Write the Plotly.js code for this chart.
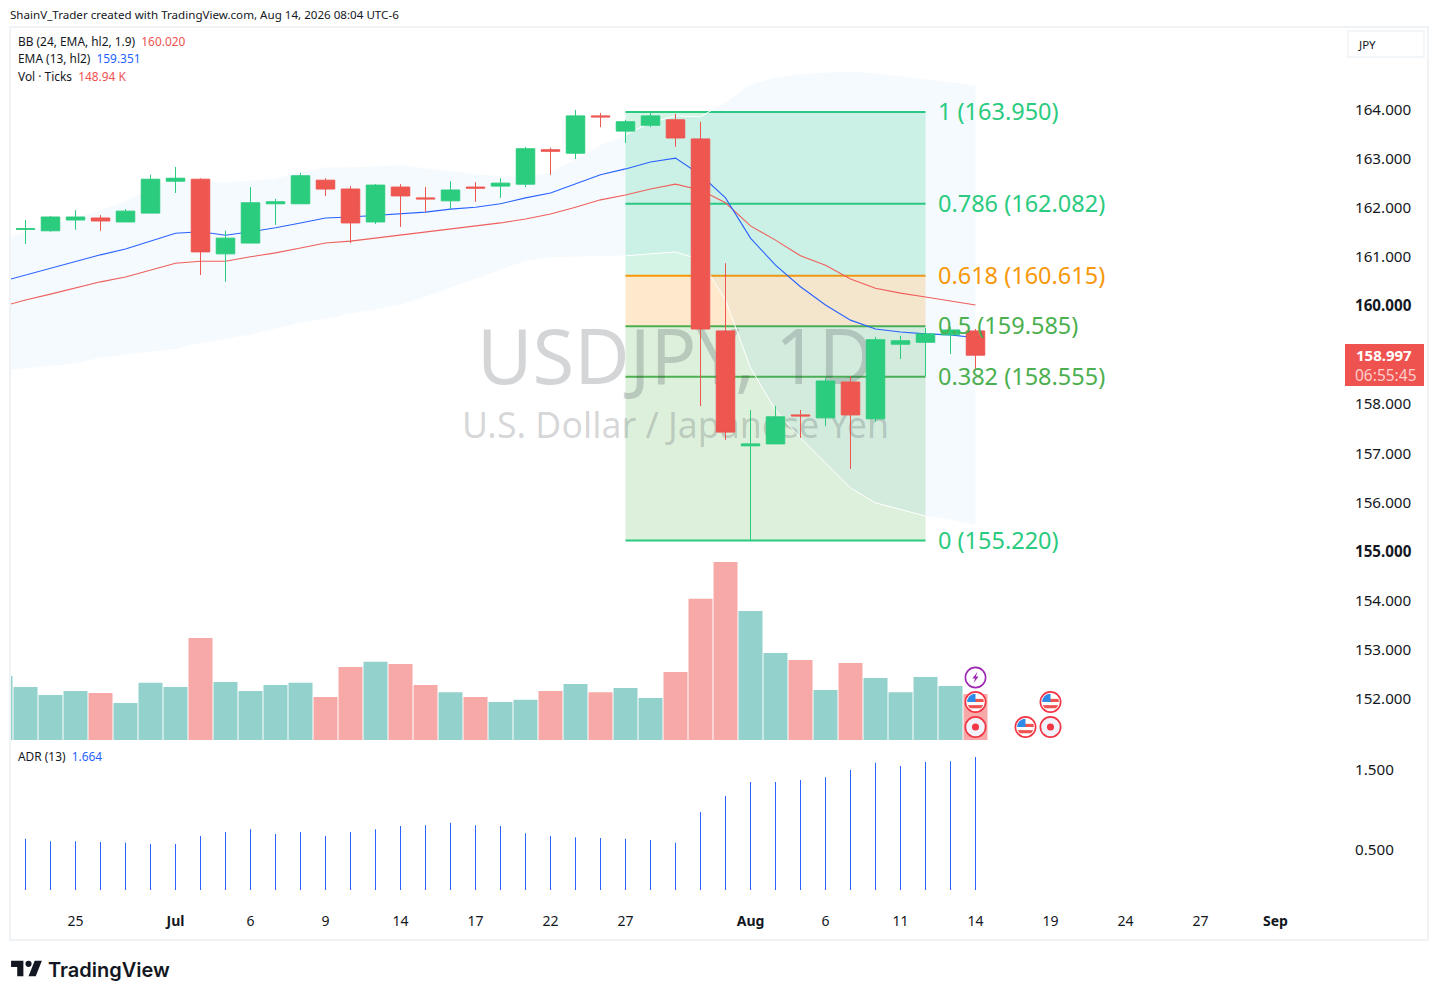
<!DOCTYPE html>
<html>
<head>
<meta charset="utf-8">
<script src="https://cdn.plot.ly/plotly-3.0.1.min.js"></script>
<style>html,body{margin:0;padding:0;background:#fff}#chart{width:1438px;height:1000px}</style>
</head>
<body>
<div id="chart"></div>
<script>
// ---------- data ----------
const candleIndex = [0,1,2,3,4,5,6,7,8,9,10,11,12,13,14,15,16,17,18,19,20,21,22,23,24,25,26,27,28,29,30,31,32,33,34,35,36,37,38];
const opens  = [161.56,161.53,161.75,161.79,161.71,161.89,162.54,162.58,161.06,161.28,162.08,162.08,162.56,162.38,161.71,162.42,162.20,162.14,162.42,162.44,162.48,163.18,163.11,163.87,163.56,163.68,163.79,163.40,159.49,157.15,157.19,157.78,157.72,158.45,157.70,159.22,159.26,159.41,159.49];
const highs  = [161.75,161.83,161.95,161.85,161.97,162.67,162.83,162.60,161.53,162.42,162.18,162.71,162.60,162.44,162.48,162.48,162.42,162.54,162.52,162.60,163.24,163.22,163.99,163.93,163.79,163.95,163.91,163.75,160.87,157.88,157.96,157.88,158.53,158.57,159.37,159.39,159.55,159.57,159.53];
const lows   = [161.26,161.51,161.55,161.53,161.71,161.89,162.30,160.63,160.49,161.28,161.65,162.08,162.24,161.28,161.67,161.61,161.91,161.97,162.12,162.20,162.42,162.67,162.99,163.64,163.32,163.64,163.24,157.96,157.27,155.22,157.19,157.31,157.55,156.68,157.64,158.92,158.57,159.02,158.69];
const closes = [161.57,161.81,161.81,161.73,161.93,162.58,162.60,161.10,161.38,162.10,162.12,162.65,162.38,161.69,162.46,162.24,162.18,162.36,162.40,162.50,163.20,163.15,163.87,163.85,163.75,163.87,163.42,159.53,157.43,157.19,157.74,157.76,158.47,157.78,159.31,159.29,159.43,159.51,158.997];

const lineIndex = [-1,0,1,2,3,4,5,6,7,8,9,10,11,12,13,14,15,16,17,18,19,20,21,22,23,24,25,26,27,28,29,30,31,32,33,34,35,36,37,38];
const emaLine = [160.49,160.63,160.77,160.91,161.04,161.16,161.32,161.48,161.51,161.44,161.51,161.59,161.69,161.79,161.81,161.84,161.87,161.91,161.97,162.01,162.08,162.20,162.30,162.48,162.67,162.79,162.93,163.01,162.67,162.20,161.38,160.83,160.39,160.02,159.71,159.53,159.47,159.43,159.41,159.351];
const bbBasis = [159.98,160.12,160.24,160.36,160.49,160.59,160.73,160.87,160.91,160.91,161.00,161.08,161.18,161.28,161.32,161.38,161.44,161.51,161.57,161.63,161.69,161.77,161.87,162.01,162.16,162.26,162.38,162.48,162.36,162.10,161.63,161.34,161.02,160.83,160.55,160.36,160.26,160.18,160.10,160.02];
const bbUpper = [161.34,161.51,161.65,161.81,161.95,162.14,162.40,162.60,162.56,162.52,162.56,162.60,162.73,162.83,162.83,162.85,162.87,162.81,162.75,162.69,162.65,162.63,162.73,162.99,163.28,163.48,163.73,163.87,163.85,164.15,164.52,164.66,164.72,164.76,164.78,164.74,164.68,164.62,164.56,164.50];
const bbLower = [158.67,158.72,158.77,158.82,158.94,159.00,159.06,159.12,159.24,159.33,159.41,159.53,159.65,159.73,159.84,159.92,160.02,160.18,160.36,160.55,160.73,160.91,160.98,160.99,161.00,161.02,161.06,161.10,160.94,160.12,158.74,157.88,157.31,156.80,156.29,155.99,155.86,155.72,155.64,155.54];
const volumeK = [207,172,146,159,152,120,185,172,330,188,159,178,185,139,236,253,246,178,155,139,123,130,159,181,155,168,136,220,457,576,418,282,259,162,249,201,155,204,175,148.94];
const adrValues = [0.64,0.61,0.61,0.60,0.59,0.575,0.575,0.675,0.725,0.76,0.70,0.725,0.675,0.725,0.76,0.80,0.81,0.84,0.81,0.80,0.71,0.675,0.66,0.65,0.64,0.625,0.59,0.975,1.175,1.35,1.35,1.375,1.41,1.50,1.59,1.55,1.60,1.61,1.664];

const fibRatios = ['1','0.786','0.618','0.5','0.382','0'];
const fibPrices = [163.950,162.082,160.615,159.585,158.555,155.220];
const fibLineColors = ['#2bcb7f','#2bcb7f','#f7980a','#4caf50','#4caf50','#2bcb7f'];
const fibZoneColors = ['#d4f5e5','#d4f5e5','#ffe9cc','#dcf0dc','#ddf0dc'];
const fibStart = 24, fibEnd = 36;

const xTickVals = [2,6,9,12,15,18,21,24,29,32,35,38,41,44,47,50];
const xTickText = ['25','<b>Jul</b>','6','9','14','17','22','27','<b>Aug</b>','6','11','14','19','24','27','<b>Sep</b>'];
const priceTicks = [164,163,162,161,160,159,158,157,156,155,154,153,152];
const priceTickText = ['164.000','163.000','162.000','161.000','<b>160.000</b>','','158.000','157.000','156.000','<b>155.000</b>','154.000','153.000','152.000'];
const adrTicks = [1.5,0.5];
const adrTickText = ['1.500','0.500'];

// ---------- styles ----------
const UP='#2bcc7e', DOWN='#ee5650', VUP='#93d2cc', VDOWN='#f7a9a7', BLUE='#2962ff', BASIS='#ef5f5b', INK='#131722';
const FONT='"Noto Sans", sans-serif';
const PL=10, PR=1347, PT=27, PB=905, PW=PR-PL, PH=PB-PT;
const fx = p => (p-PL)/PW, fy = p => (PB-p)/PH;

const volIsDown = lineIndex.map((d,k)=> k===0 ? false : closes[k-1] < opens[k-1]);

const traces = [
  {type:'scatter',mode:'text',x:[26],y:[158.79],text:['USDJPY, 1D'],textposition:'middle center',
   textfont:{size:76,family:FONT,color:'rgba(42,46,57,0.2)'},hoverinfo:'skip',showlegend:false},
  {type:'scatter',mode:'text',x:[26],y:[157.49],text:['U.S. Dollar / Japanese Yen'],textposition:'middle center',
   textfont:{size:35.7,family:FONT,color:'rgba(42,46,57,0.2)'},hoverinfo:'skip',showlegend:false},
  {type:'scatter',mode:'lines',x:lineIndex,y:bbUpper,line:{color:'#ffffff',width:1},hoverinfo:'skip',showlegend:false},
  {type:'scatter',mode:'lines',x:lineIndex,y:bbLower,line:{color:'#ffffff',width:1},fill:'tonexty',fillcolor:'rgba(33,150,243,0.05)',hoverinfo:'skip',showlegend:false},
  {type:'scatter',mode:'lines',x:lineIndex,y:bbBasis,line:{color:BASIS,width:1.1},hoverinfo:'skip',showlegend:false},
  {type:'scatter',mode:'lines',x:lineIndex,y:emaLine,line:{color:BLUE,width:1.1},hoverinfo:'skip',showlegend:false},
  {type:'bar',x:lineIndex,y:volumeK,yaxis:'y3',width:0.96,marker:{color:volIsDown.map(d=>d?VDOWN:VUP),line:{width:0}},hoverinfo:'skip',showlegend:false},
  {type:'candlestick',x:candleIndex,open:opens,high:highs,low:lows,close:closes,yaxis:'y4',
   increasing:{line:{color:UP,width:1},fillcolor:UP},decreasing:{line:{color:DOWN,width:1},fillcolor:DOWN},hoverinfo:'skip',showlegend:false},
  {type:'bar',x:candleIndex,y:adrValues,yaxis:'y2',width:0.04,marker:{color:BLUE,line:{width:0}},hoverinfo:'skip',showlegend:false}
];

// fib zones & lines
const shapes = [];
fibZoneColors.forEach((c,k)=>shapes.push({type:'rect',layer:'below',xref:'x',yref:'y',x0:fibStart,x1:fibEnd,y0:fibPrices[k],y1:fibPrices[k+1],fillcolor:c,line:{width:0}}));
fibPrices.forEach((p,k)=>shapes.push({type:'line',layer:'below',xref:'x',yref:'y',x0:fibStart,x1:fibEnd,y0:p,y1:p,line:{color:fibLineColors[k],width:2}}));
// frame, currency box, last price tag
shapes.push({type:'rect',xref:'paper',yref:'paper',x0:fx(10),x1:fx(1428),y0:fy(940),y1:fy(27),line:{color:'#f0f3f5',width:2},fillcolor:'rgba(0,0,0,0)'});
shapes.push({type:'rect',xref:'paper',yref:'paper',x0:fx(1348),x1:fx(1424),y0:fy(57),y1:fy(31),line:{color:'#f0f3f7',width:1.5},fillcolor:'#fff'});
shapes.push({type:'rect',xref:'paper',yref:'paper',x0:fx(1345),x1:fx(1424),y0:fy(386),y1:fy(344),line:{width:0},fillcolor:'#ef5350'});

const annText = (px,py,text,size,opts={}) => Object.assign({xref:'paper',yref:'paper',x:fx(px),y:fy(py),xanchor:'left',yanchor:'middle',text,showarrow:false,align:'left',borderpad:0,
  font:{size,color:INK,family:FONT}},opts);
const annotations = [
  annText(9,14.5,'ShainV_Trader created with TradingView.com, Aug 14, 2026 08:04 UTC-6',11.6),
  annText(17,41.5,'BB (24, EMA, hl2, 1.9)  <span style="color:#ef5350">160.020</span>',11.9),
  annText(17,58.5,'EMA (13, hl2)  <span style="color:#2962ff">159.351</span>',11.9),
  annText(17,75.5,'Vol · Ticks  <span style="color:#ef5350">148.94 K</span>',11.9),
  annText(17,755.5,'ADR (13)  <span style="color:#2962ff">1.664</span>',11.9),
  annText(1357,44,'JPY',11.5),
  annText(1383.5,355,'<b>158.997</b>',15,{xanchor:'center',font:{size:15,color:'#ffffff',family:FONT}}),
  annText(1386,375,'06:55:45',15.5,{xanchor:'center',font:{size:15.5,color:'rgba(255,255,255,0.72)',family:FONT}}),
  annText(47,970,'TradingView',20,{font:{size:20,color:'#131722',family:'Inter, sans-serif',weight:600}})
];
fibPrices.forEach((p,k)=>annotations.push({xref:'x',yref:'y',x:36.44,y:p,yshift:1,xanchor:'left',yanchor:'middle',showarrow:false,borderpad:0,
  text:fibRatios[k]+' ('+p.toFixed(3)+')',font:{size:23.5,color:fibLineColors[k],family:FONT}}));

const svgUri = s => 'data:image/svg+xml;charset=utf-8,'+encodeURIComponent(s);
const iconFlag = svgUri('<svg xmlns="http://www.w3.org/2000/svg" width="22" height="22" viewBox="0 0 22 22"><circle cx="11" cy="11" r="9.7" fill="#fff" stroke="#f23645" stroke-width="1.6"/><clipPath id="c"><circle cx="11" cy="11" r="8"/></clipPath><g clip-path="url(#c)"><rect x="9" y="8" width="12" height="3" fill="#ef5350"/><rect x="2" y="14" width="18" height="3" fill="#ef5350"/><rect x="2" y="3" width="9" height="8" fill="#2e8ae6"/></g></svg>');
const iconDot = svgUri('<svg xmlns="http://www.w3.org/2000/svg" width="22" height="22" viewBox="0 0 22 22"><circle cx="11" cy="11" r="9.7" fill="#f0f3fa" stroke="#f23645" stroke-width="1.6"/><circle cx="11" cy="11" r="3.4" fill="#f23645"/></svg>');
const iconBolt = svgUri('<svg xmlns="http://www.w3.org/2000/svg" width="22" height="22" viewBox="0 0 22 22"><circle cx="11" cy="11" r="9.7" fill="#fff" stroke="#9c27b0" stroke-width="1.5"/><path d="M13 5.5 L8 12 L10.7 12 L9 16.5 L14 10 L11.3 10 Z" fill="#9c27b0"/></svg>');
const logo = svgUri('<svg xmlns="http://www.w3.org/2000/svg" width="36" height="28" viewBox="0 0 36 28"><path fill="#131722" d="M14 6H2v6h6v9h6V6Zm12 15h-7l6-15h7l-6 15Zm-7-9a3 3 0 1 0 0-6 3 3 0 0 0 0 6Z"/></svg>');
const icon = (src,i,py) => ({source:src,xref:'x',yref:'paper',x:i,y:fy(py),sizex:23/25,sizey:23/PH,xanchor:'center',yanchor:'middle',sizing:'contain',layer:'above'});
const images = [
  icon(iconBolt,38,677.5), icon(iconFlag,38,702), icon(iconDot,38,727),
  icon(iconFlag,41,702), icon(iconDot,41,727), icon(iconFlag,40,727),
  {source:logo,xref:'paper',yref:'paper',x:fx(9),y:fy(969),sizex:37/PW,sizey:29/PH,xanchor:'left',yanchor:'middle',sizing:'contain',layer:'above'}
];

const priceRange = [151.139,165.68];
const layout = {
  width:1438,height:1000,autosize:false,
  margin:{l:PL,r:1438-PR,t:PT,b:1000-PB,pad:0},
  paper_bgcolor:'#ffffff',plot_bgcolor:'#ffffff',showlegend:false,hovermode:false,barmode:'overlay',boxgap:0.26,boxgroupgap:0,
  font:{family:FONT,color:INK,size:14},
  xaxis:{range:[-0.62,52.86],anchor:'y2',domain:[0,1],tickmode:'array',tickvals:xTickVals,ticktext:xTickText,showgrid:false,zeroline:false,showline:false,ticks:'',ticklabelstandoff:6,
    tickfont:{size:14,color:INK,family:FONT},rangeslider:{visible:false},fixedrange:true,tickangle:0},
  yaxis:{domain:[fy(741),1],range:priceRange,side:'right',anchor:'x',tickmode:'array',tickvals:priceTicks,ticktext:priceTickText,showgrid:false,zeroline:false,showline:false,ticks:'',ticklabelstandoff:7,
    tickfont:{size:15.2,color:INK,family:FONT},fixedrange:true},
  yaxis2:{domain:[0,fy(742)],range:[-0.1875,1.85],side:'right',anchor:'x',tickmode:'array',tickvals:adrTicks,ticktext:adrTickText,showgrid:false,zeroline:false,showline:false,ticks:'',ticklabelstandoff:7,
    tickfont:{size:15.2,color:INK,family:FONT},fixedrange:true},
  yaxis3:{overlaying:'y',range:[-3.238,2308.7],visible:false,fixedrange:true},
  yaxis4:{overlaying:'y',range:priceRange,visible:false,fixedrange:true},
  shapes,annotations,images
};
Plotly.newPlot('chart',traces,layout,{displayModeBar:false,staticPlot:true});
</script>
</body>
</html>
